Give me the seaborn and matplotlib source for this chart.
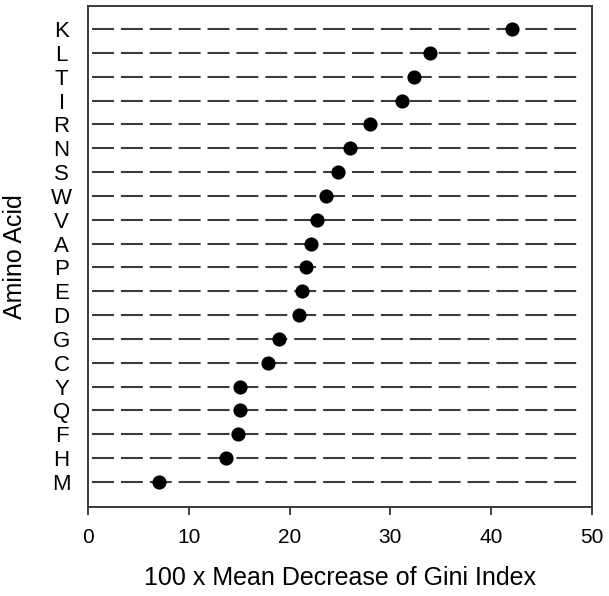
import matplotlib
matplotlib.use("Agg")
import matplotlib.pyplot as plt
import seaborn as sns
import pandas as pd

amino_acids = ["K", "L", "T", "I", "R", "N", "S", "W", "V", "A",
               "P", "E", "D", "G", "C", "Y", "Q", "F", "H", "M"]
gini_decrease = [42.1, 33.9, 32.3, 31.2, 28.0, 26.0, 24.8, 23.6, 22.7, 22.1,
                 21.6, 21.2, 20.9, 18.9, 17.9, 15.1, 15.05, 14.9, 13.7, 7.07]
x_ticks = [0, 10, 20, 30, 40, 50]

sns.set_theme(style="white")
plt.rcParams["font.family"] = ["Liberation Sans", "DejaVu Sans"]

df = pd.DataFrame({"aa": amino_acids, "val": gini_decrease})

fig = plt.figure(figsize=(6.09, 5.96), dpi=100)
ax = fig.add_axes([88 / 609, 1 - 507 / 596, 504 / 609, 501 / 596])

lw = 1.5
line_color = "#3c3c3c"
ax.hlines(range(len(amino_acids)), 0.4, 48.6, colors=line_color, linewidth=lw,
          linestyles=[(0, (15.8 / lw, 5.0 / lw))], zorder=1)

sns.stripplot(data=df, x="val", y="aa", order=amino_acids, jitter=False,
              color="black", size=10.2, linewidth=0, ax=ax, zorder=3)

ax.set_xlim(0, 50)
ax.set_ylim(len(amino_acids) - 1 + 1.05, -0.97)
ax.set_xticks(x_ticks)
ax.set_xticklabels([str(t) for t in x_ticks])

ax.tick_params(axis="x", which="both", bottom=True, direction="out", length=6,
               width=1.3, color="#333333", labelsize=15, pad=9, labelcolor="black")
ax.tick_params(axis="y", left=False, length=0, labelsize=16, pad=19, labelcolor="black")
for lab in ax.get_yticklabels():
    lab.set_horizontalalignment("center")

for sp in ax.spines.values():
    sp.set_visible(True)
    sp.set_color("#3a3a3a")
    sp.set_linewidth(1.4)

ax.set_xlabel("100 x Mean Decrease of Gini Index", fontsize=18, labelpad=14, color="black")
ax.set_ylabel("Amino Acid", fontsize=18, color="black")
ax.yaxis.set_label_coords(-(88 - 27) / 504, 0.5)

fig.savefig("out.png", dpi=100)
